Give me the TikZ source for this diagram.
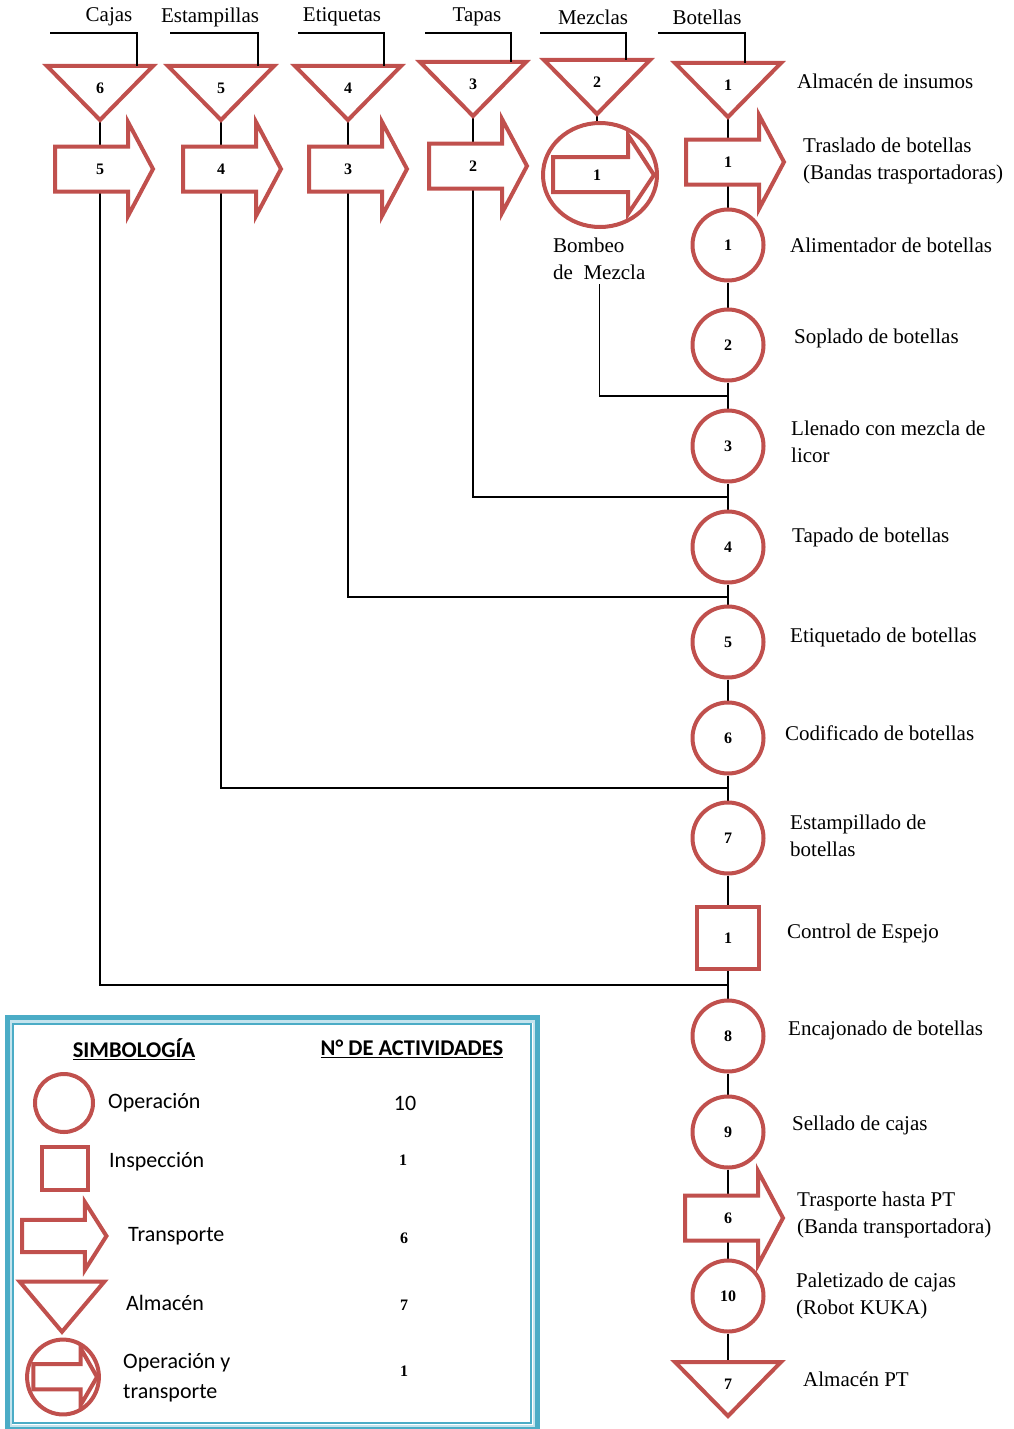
\documentclass[tikz,border=0pt]{standalone}
\usepackage{fontspec}
\setmainfont{Liberation Serif}
\newfontfamily\calibri{Carlito}
\usetikzlibrary{calc,backgrounds}
\definecolor{rojo}{HTML}{C0504D}
\definecolor{azul}{HTML}{4BACC6}
\definecolor{celeste}{HTML}{C4E4EE}
\begin{document}
\begin{tikzpicture}[x=1pt, y=-1pt,
    shp/.style={draw=rojo, line width=4pt, fill=white},
    num/.style={font=\bfseries\fontsize{16}{16}\selectfont, inner sep=1pt},
    op/.style={shp, num, circle, minimum size=71pt, inner sep=0pt},
    insp/.style={shp, num, rectangle, minimum size=62pt, inner sep=0pt},
    lbl/.style={anchor=west, align=left, inner sep=0pt, font=\fontsize{21}{27}\selectfont},
    cab/.style={inner sep=0pt, font=\fontsize{21}{21}\selectfont},
    tit/.style={inner sep=0pt, font=\calibri\bfseries\fontsize{22.5}{22.5}\selectfont},
    ley/.style={anchor=west, align=left, inner sep=0pt, font=\calibri\fontsize{22}{30}\selectfont},
    link/.style={line width=1.3pt},
    almacen/.pic={\draw[shp] (-53,-22) -- (53,-22) -- (0,32) -- cycle;},
    transporte/.pic={\draw[shp] (-37,-22.5) -- (36,-22.5) -- (36,-47) -- (61,0) -- (36,47) -- (36,22.5) -- (-37,22.5) -- cycle;},
    opytr/.pic={\draw[shp] (0,0) ellipse (57 and 52);
      \draw[shp] (-47,-18) -- (28,-18) -- (28,-40) -- (54,0) -- (28,39) -- (28,17) -- (-47,17) -- cycle;}]
      \useasboundingbox (0,0) rectangle (1014,1429);

      \foreach \n/\x/\y/\lab/\lx/\e/\f in {6/100/88/Cajas/109/50/37, 5/221/88/Estampillas/210/170/37,
          4/348/88/Etiquetas/342/298/36, 3/473/84/Tapas/477/425/38, 2/597/82/Mezclas/593/540/29,
          1/728/85/Botellas/707/658/17}
      {
        \node[cab] (c\n) at (\lx,17) {\lab};
        \pic at (\x,\y) {almacen};
        \node[num] (a\n) at (\x,\y) {\n};
        \coordinate (e\n) at (\e,33);
        \draw[link] (e\n) -| ($(a\n)+(\f,-22)$);
      }
      \foreach \n/\px/\x/\y in {5/92/100/169, 4/220/221/169, 3/346/348/169, 2/466/473/166, 1/723/728/162}
      {
        \pic at (\px,\y) {transporte};
        \node[num] (t\n) at (\x,\y) {\n};
      }
      \pic at (600,175) {opytr};
      \node[num] (m1) at (597,175) {1};
      \node[lbl] (bombeo) at (553,259) {Bombeo\\de\ \ Mezcla};

      \node[op] (o1) at (728,245) {1};
      \node[op] (o2) at (728,345) {2};
      \node[op] (o3) at (728,446) {3};
      \node[op] (o4) at (728,547) {4};
      \node[op] (o5) at (728,642) {5};
      \node[op] (o6) at (728,738) {6};
      \node[op] (o7) at (728,838) {7};
      \node[insp] (i1) at (728,938) {1};
      \node[op] (o8) at (728,1036) {8};
      \node[op] (o9) at (728,1132) {9};
      \pic at (722,1218) {transporte};
      \node[num] (t6) at (728,1218) {6};
      \node[op] (o10) at (728,1296) {10};
      \pic at (728,1384) {almacen};
      \node[num] (a7) at (728,1384) {7};

      \node[lbl] at (797,81) {Almacén de insumos};
      \node[lbl] at (803,161) {Traslado de botellas\\(Bandas trasportadoras)};
      \node[lbl] at (790,245) {Alimentador de botellas};
      \node[lbl] at (794,338) {Soplado de botellas};
      \node[lbl] at (791,442) {Llenado con mezcla de\\licor};
      \node[lbl] at (792,537) {Tapado de botellas};
      \node[lbl] at (790,637) {Etiquetado de botellas};
      \node[lbl] at (785,733) {Codificado de botellas};
      \node[lbl] at (790,836) {Estampillado de\\botellas};
      \node[lbl] at (787,933) {Control de Espejo};
      \node[lbl] at (788,1030) {Encajonado de botellas};
      \node[lbl] at (792,1125) {Sellado de cajas};
      \node[lbl] at (797,1215) {Trasporte hasta PT\\(Banda transportadora)};
      \node[lbl] at (796,1296) {Paletizado de cajas\\(Robot KUKA)};
      \node[lbl] at (803,1379) {Almacén PT};

      \begin{scope}[on background layer]
        \coordinate (j1) at (728,396);
        \coordinate (j2) at (728,497);
        \coordinate (j3) at (728,597);
        \coordinate (j4) at (728,788);
        \coordinate (j5) at (728,985);
        \draw[link] (a1) -- (t1) -- (o1) -- (o2) -- (o3) -- (o4) -- (o5) -- (o6) -- (o7) -- (i1)
          -- (o8) -- (o9) -- (t6) -- (o10) -- (a7);
        \draw[link] (a6) -- (t5);
        \draw[link] (a5) -- (t4);
        \draw[link] (a4) -- (t3);
        \draw[link] (a3) -- (t2);
        \draw[link] (a2) -- (m1);
        \draw[link] ([yshift=-4pt]bombeo.south) |- (j1);
        \draw[link] (t2) |- (j2);
        \draw[link] (t3) |- (j3);
        \draw[link] (t4) |- (j4);
        \draw[link] (t5) |- (j5);
      \end{scope}

      \draw[celeste, line width=3pt] (10.5,1021) rectangle (534.5,1426);
      \draw[azul, line width=1.5pt] (13,1024) rectangle (531,1423);
      \draw[azul, line width=5pt] (7.5,1017.5) rectangle (537.5,1429.5);
      \node[tit] (simb) at (134,1049) {\underline{SIMBOLOGÍA}};
      \node[tit] (nact) at (412,1049) {\underline{N° DE ACTIVIDADES}};
      \node[shp, circle, minimum size=58pt] (lop) at (64,1103) {};
      \node[shp, minimum width=46pt, minimum height=43pt] (lins) at (65,1168) {};
      \pic[xscale=0.86, yscale=0.72] at (54,1236) {transporte};
      \pic[xscale=0.8, yscale=0.93] at (62,1302) {almacen};
      \pic[xscale=0.63, yscale=0.72] at (63,1377) {opytr};
      \node[ley] (lop1) at (108,1103) {Operación};
      \node[ley] (lins1) at (109,1162) {Inspección};
      \node[ley] (ltr1) at (128,1236) {Transporte};
      \node[ley] (lal1) at (126,1303) {Almacén};
      \node[ley] (lot1) at (123,1378) {Operación y\\transporte};
      \node[tit, font=\calibri\fontsize{22}{22}\selectfont] (nop) at (405,1103) {10};
      \node[num] (nins) at (403,1160) {1};
      \node[num] (ntr) at (404,1238) {6};
      \node[num] (nal) at (404,1305) {7};
      \node[num] (not) at (404,1371) {1};
    \end{tikzpicture}
\end{document}
